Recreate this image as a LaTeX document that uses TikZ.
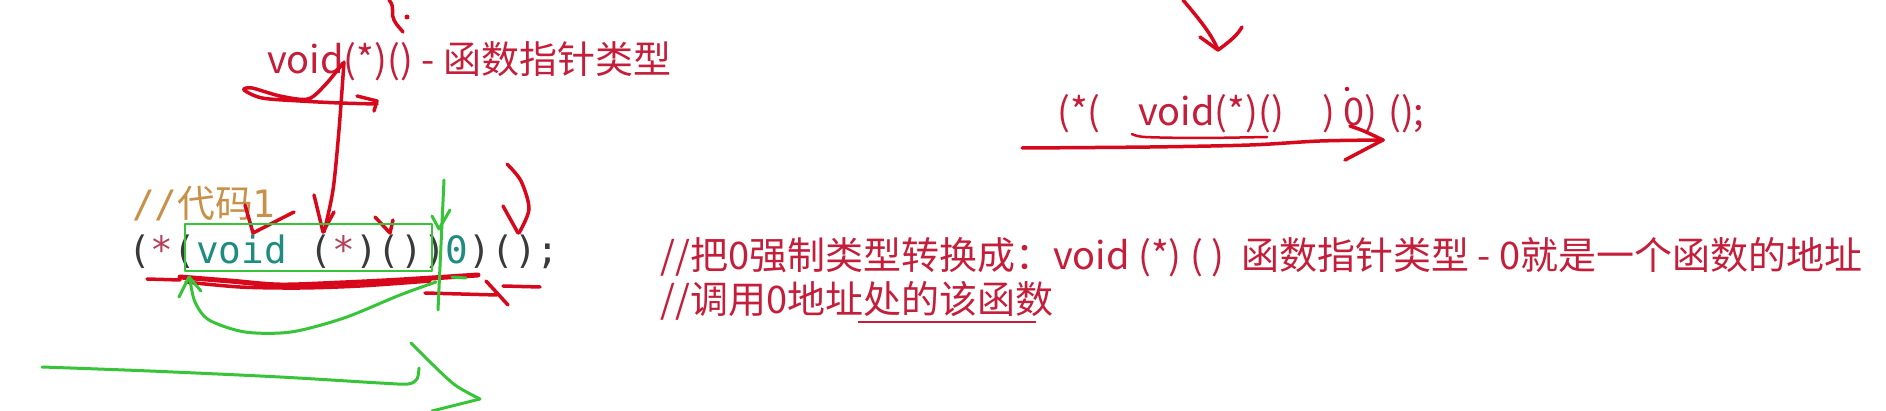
\documentclass[tikz,border=0pt]{standalone}
\usepackage{fontspec}
\newfontfamily\cjk{Noto Sans CJK SC}
\newfontfamily\mono{DejaVu Sans Mono}
\definecolor{ink}{HTML}{C41E3A}
\definecolor{hred}{HTML}{D8081C}
\definecolor{hgreen}{HTML}{38C438}
\definecolor{cgray}{HTML}{3A3A3A}
\definecolor{cteal}{HTML}{1E8C80}
\definecolor{cstar}{HTML}{B8405A}
\definecolor{corange}{HTML}{C89048}
\begin{document}
\begin{tikzpicture}[x=1pt,y=-1pt,
  txt/.style={inner sep=0pt, anchor=base west},
  sans/.style={txt, text=ink, font=\cjk\fontsize{38}{44}\selectfont},
  redpen/.style={draw=hred, line width=3.5pt, line cap=round, line join=round},
  greenpen/.style={draw=hgreen, line width=3pt, line cap=round, line join=round}]
\useasboundingbox (0,0) rectangle (1886,411);
\fill[white] (0,0) rectangle (1886,411);

% ---- texts ----
\node[sans] (t1) at (267,74) {void(*)() - 函数指针类型};

\node[sans] (r1) at (1057,126) {(*(};
\node[sans] (r2) at (1138,126) {void(*)()};
\node[sans] (r3) at (1322,126) {)};
\node[sans] (r4) at (1343,126) {0)};
\node[sans] (r5) at (1388,126) {();};

\node[txt, text=corange, font=\fontsize{37.7}{44}\selectfont] (c1) at (132,218) {{\mono //}{\cjk 代码}{\mono 1}};
\node[txt, text=cgray, font=\mono\fontsize{37.7}{44}\selectfont] (code) at (128,264)
  {(\textcolor{cstar}{*}(\textcolor{cteal}{void} (\textcolor{cstar}{*})())\textcolor{cteal}{0})();};

\node[sans] (m1) at (660,270) {//把0强制类型转换成：void (*) ( )~~函数指针类型 - 0就是一个函数的地址};
\node[sans] (m2) at (660,313) {//调用0地址处的该函数};
\draw[draw=ink, line width=2.5pt] (858,322) -- (1036,322);

% ---- red handwriting, top ----
\draw[redpen] (389,0) .. controls (396,8) and (390,14) .. (394,20) .. controls (397,26) and (400,28) .. (403,32);
\fill[hred] (407,17) circle (2.5);
\draw[redpen] (1183,0) .. controls (1200,20) and (1212,35) .. (1218,50);
\draw[redpen] (1200,37) -- (1218,50) .. controls (1232,40) and (1238,34) .. (1242,27);

\draw[redpen] plot[smooth] coordinates {(343,63) (326,84) (308,99) (280,96) (252,88) (244,90) (262,98) (300,101) (340,103) (377,104)};
\draw[redpen] (357,96) -- (377,101) -- (374,111);
\draw[redpen] plot[smooth] coordinates {(344,62) (339,130) (333,190) (324,232)};
\draw[redpen] (314,195) -- (323,232) -- (334,212);

% ---- red handwriting, right ----
\draw[redpen, line width=2.5pt] plot[smooth] coordinates {(1132,134) (1145,137) (1200,138) (1267,137)};
\draw[redpen] plot[smooth] coordinates {(1022,148) (1150,147) (1250,145) (1320,141) (1383,140)};
\draw[redpen] (1350,126) .. controls (1362,130) .. (1383,140) -- (1345,160);
\fill[hred] (1347,89) circle (2.2);

% ---- red handwriting, code ----
\draw[redpen] (245,205) -- (253,233) -- (294,212);
\draw[redpen] (375,217) -- (390,233) -- (393,220);
\draw[redpen] plot[smooth] coordinates {(507,164) (521,181) (529,209) (519,233)};
\draw[redpen] (503,206) -- (518,233);

\draw[redpen] (147,279) -- (180,280);
\draw[redpen, line width=5pt] plot[smooth] coordinates {(180,277) (230,281) (280,285) (340,283) (400,280) (478,275)};
\draw[redpen] plot[smooth] coordinates {(186,282) (240,287) (300,288) (360,286) (430,281)};
\draw[redpen] (425,293) -- (497,295);
\draw[redpen] (486,281) -- (498,294) -- (508,305);
\draw[redpen] (503,286) -- (540,287);

% ---- green handwriting ----
\draw[greenpen, line width=2.5pt] (185,224) rectangle (432,271);
\draw[greenpen] (444,180) -- (438,310);
\draw[greenpen] (432,216) -- (439,229) -- (450,210);
\draw[greenpen] (179,297) -- (189,277) -- (201,291);
\draw[greenpen] plot[smooth] coordinates {(190,280) (195,302) (209,320) (245,332) (291,332) (344,318) (400,295) (436,282)};
\draw[greenpen] (452,277) -- (466,278);
\draw[greenpen] plot[smooth] coordinates {(42,367) (150,371) (280,377) (380,383) (408,384) (417,379) (419,368)};
\draw[greenpen] plot[smooth] coordinates {(411,343) (430,362) (455,385) (480,399)};
\draw[greenpen] (480,399) -- (432,411);
\end{tikzpicture}
\end{document}
